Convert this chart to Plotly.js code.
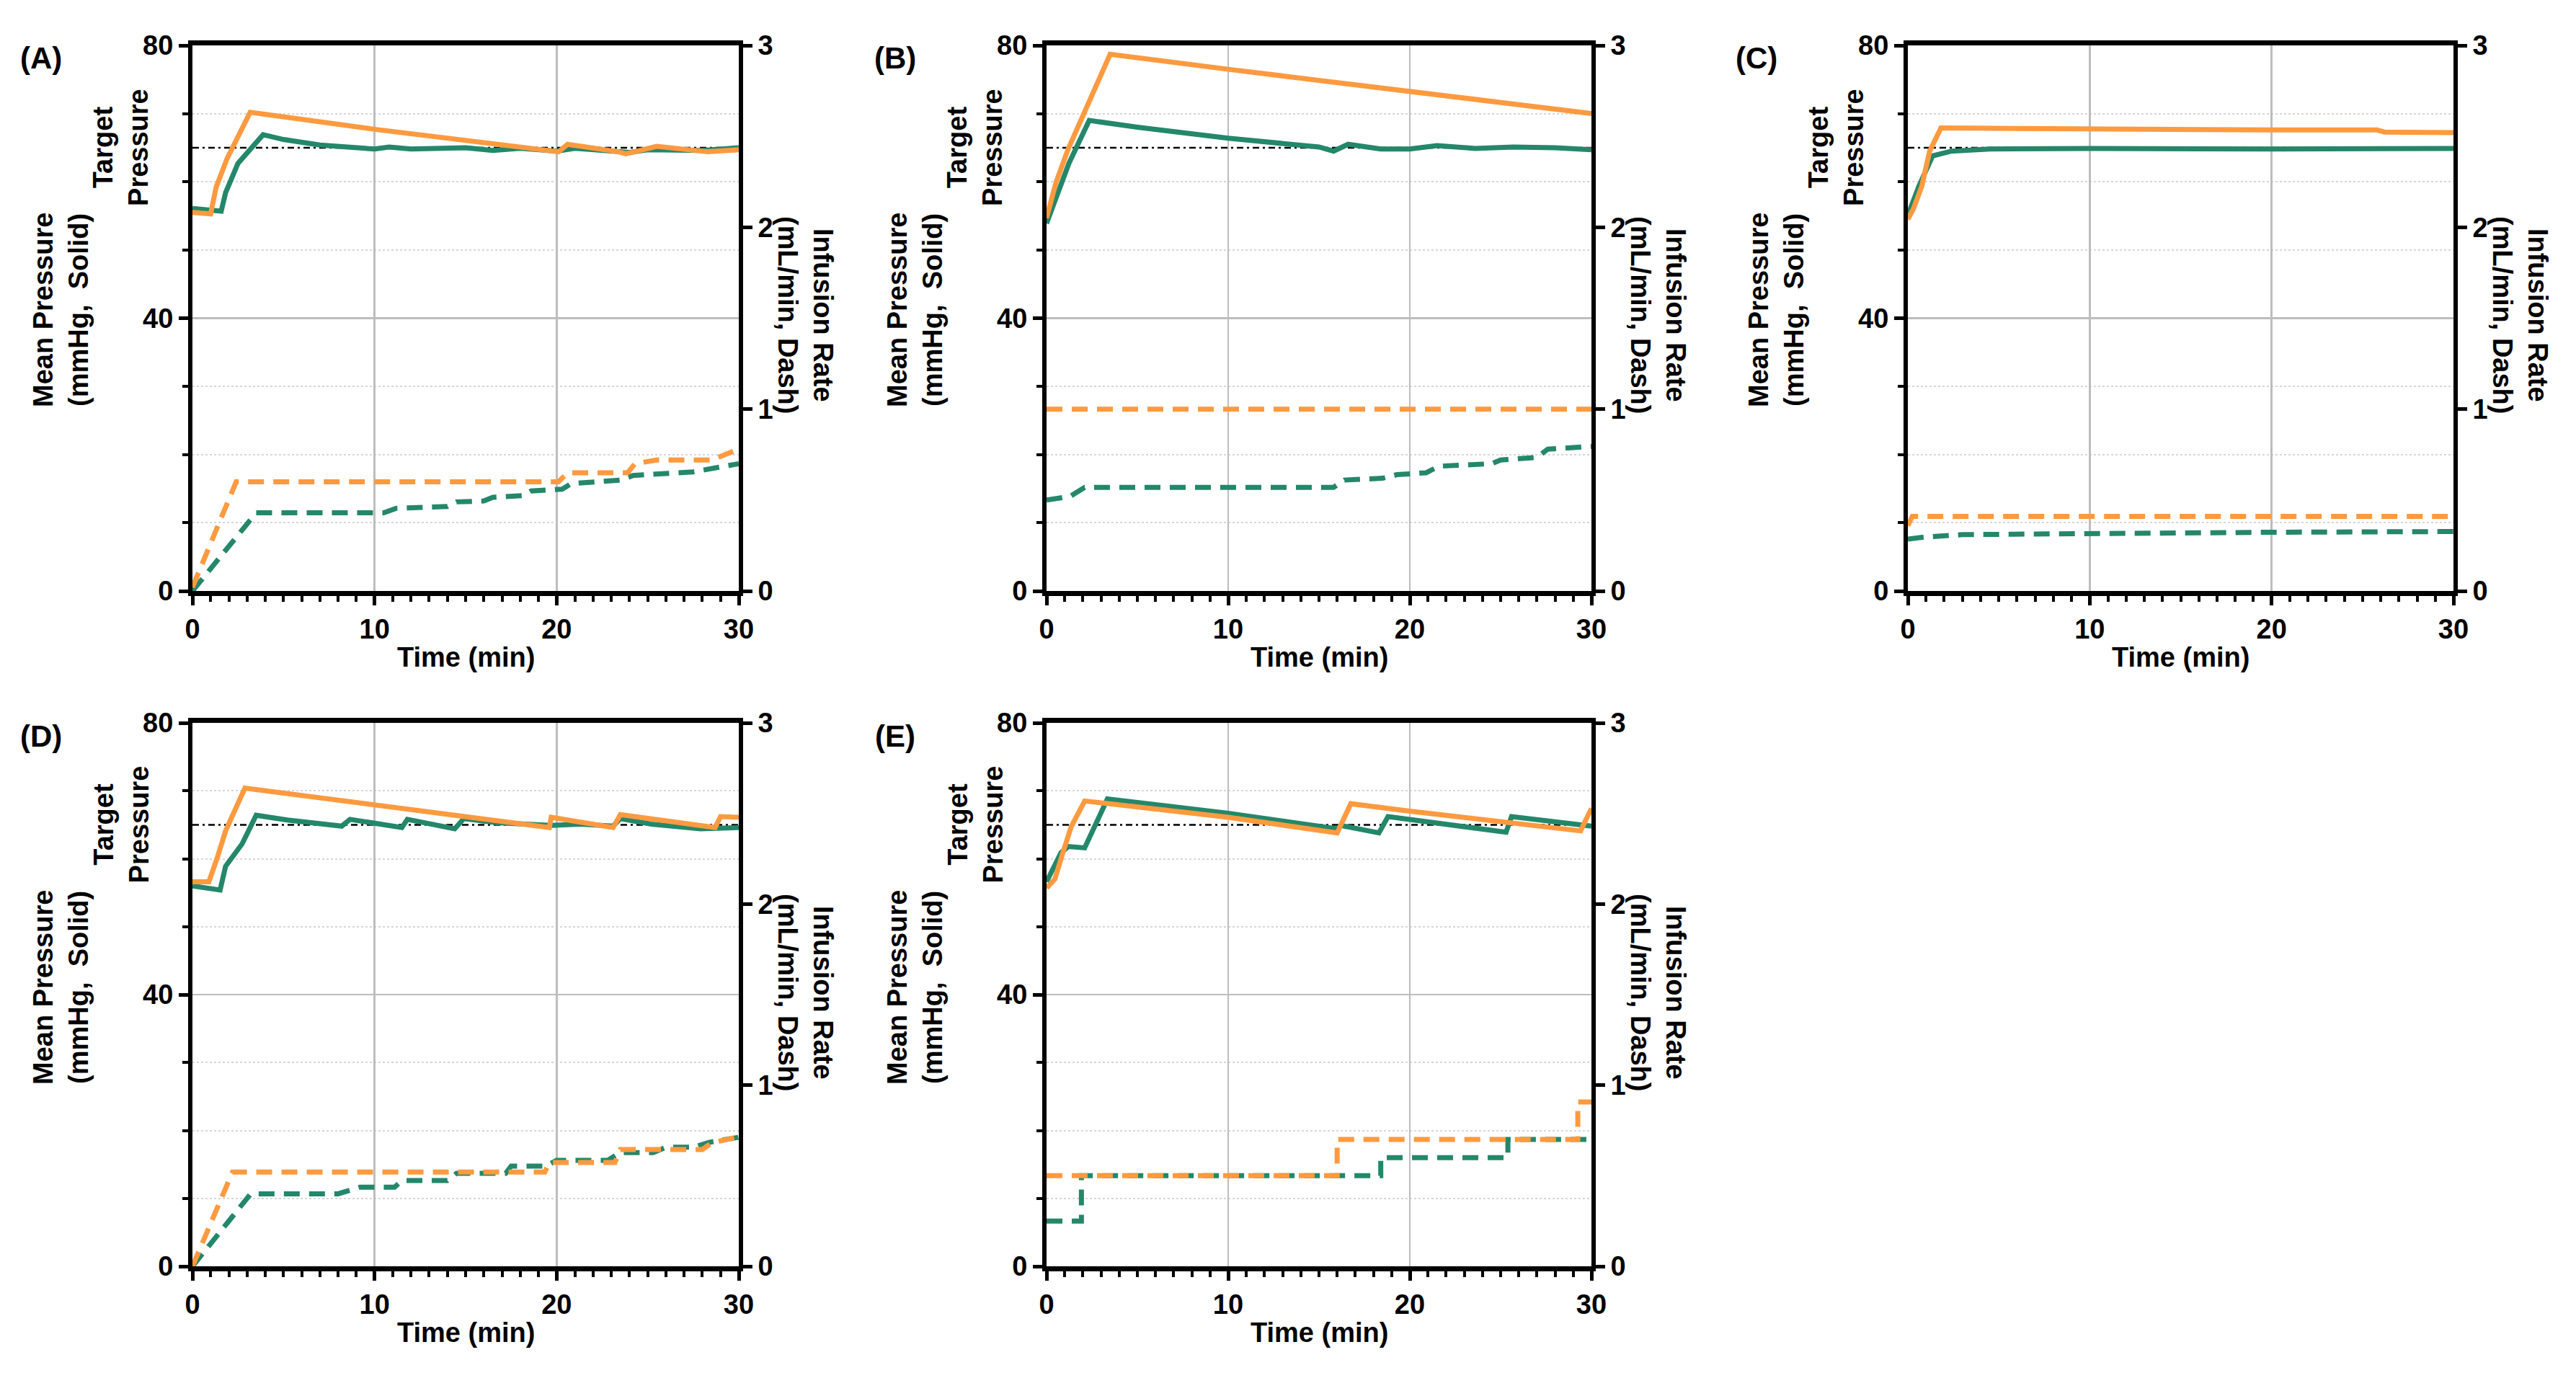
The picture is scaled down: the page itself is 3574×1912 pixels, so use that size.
<!DOCTYPE html>
<html>
<head>
<meta charset="utf-8">
<script src="https://cdn.plot.ly/plotly-3.0.1.min.js"></script>
<style>html,body{margin:0;padding:0;background:#fff;}</style>
</head>
<body>
<div id="chart" style="width:3574px;height:1912px;"></div>
<script>
// ---------- data ----------
const panelLabels = ['(A)', '(B)', '(C)', '(D)', '(E)'];
const xTicks = [0, 10, 20, 30];
const pTicks = [0, 40, 80];
const rTicks = [0, 1, 2, 3];
const targetT = [0, 30];
const targetP = [65, 65];

// Panel A
const A_tOrange = [0, 1.0, 1.3, 1.9, 3.17, 10, 20.1, 20.6, 23.4, 23.8, 25.5, 28.3, 30];
const A_pOrange = [55.5, 55.3, 59.2, 63.4, 70.2, 67.7, 64.4, 65.5, 64.4, 64.1, 65.2, 64.4, 64.7];
const A_tGreen = [0, 1.58, 1.82, 2.5, 3.88, 5, 7, 9, 10, 10.8, 12, 15, 16.5, 18, 20, 21, 24, 25, 28, 30];
const A_pGreen = [56.1, 55.7, 58.4, 62.7, 66.9, 66.2, 65.4, 64.9, 64.8, 65.1, 64.8, 65.0, 64.6, 64.9, 64.5, 64.9, 64.3, 64.7, 64.6, 65.0];
const A_tOrangeRate = [0, 2.4, 20.1, 20.6, 23.9, 24.3, 25.5, 28.5, 30];
const A_rOrange = [0.02, 0.6, 0.6, 0.65, 0.65, 0.70, 0.72, 0.72, 0.78];
const A_tGreenRate = [0, 3.5, 10.5, 11.2, 14.0, 14.5, 16.0, 16.5, 18.2, 18.6, 20.3, 20.8, 23.5, 24.2, 27.5, 28.5, 30];
const A_rGreen = [0, 0.43, 0.43, 0.455, 0.465, 0.49, 0.495, 0.515, 0.525, 0.55, 0.56, 0.59, 0.61, 0.635, 0.655, 0.675, 0.70];

// Panel B
const B_tOrange = [0, 0.52, 1.19, 3.5, 10, 20, 30];
const B_pOrange = [54.7, 59.9, 64.8, 78.7, 76.5, 73.2, 70.0];
const B_tGreen = [0, 0.6, 1.23, 2.35, 5, 10, 15, 15.8, 16.6, 18.4, 20, 21.5, 23.6, 25.7, 28, 30];
const B_pGreen = [53.9, 58.4, 62.7, 69.0, 68.0, 66.4, 65.1, 64.5, 65.5, 64.8, 64.8, 65.3, 64.9, 65.1, 65.0, 64.7];
const B_tOrangeRate = [0, 30];
const B_rOrange = [1.0, 1.0];
const B_tGreenRate = [0, 1.3, 2.1, 15.8, 16.4, 18.5, 19.3, 20.9, 21.6, 24.5, 25.0, 27.0, 27.6, 30];
const B_rGreen = [0.50, 0.52, 0.57, 0.57, 0.61, 0.62, 0.64, 0.65, 0.686, 0.70, 0.72, 0.735, 0.78, 0.795];

// Panel C
const C_tOrange = [0, 0.3, 0.76, 1.2, 1.82, 10, 20, 25.8, 26.2, 30];
const C_pOrange = [54.5, 56.0, 59.3, 64.5, 67.9, 67.7, 67.6, 67.6, 67.3, 67.2];
const C_tGreen = [0, 0.6, 1.36, 2.4, 4.5, 10, 20, 30];
const C_pGreen = [55.1, 59.3, 63.8, 64.5, 64.8, 64.9, 64.8, 64.9];
const C_tOrangeRate = [0, 0.25, 30];
const C_rOrange = [0.36, 0.41, 0.41];
const C_tGreenRate = [0, 0.8, 3, 10, 20, 30];
const C_rGreen = [0.285, 0.295, 0.31, 0.317, 0.323, 0.327];

// Panel D
const D_tOrange = [0, 0.9, 1.37, 1.82, 2.88, 19.6, 19.7, 23.1, 23.5, 28.7, 29.0, 30];
const D_pOrange = [56.6, 56.6, 60.2, 64.1, 70.4, 64.6, 66.1, 64.6, 66.5, 64.6, 66.2, 66.1];
const D_tGreen = [0, 1.52, 1.82, 2.73, 3.5, 5.2, 8.2, 8.65, 11.5, 11.8, 14.4, 14.9, 16.7, 19.7, 21.3, 23.1, 23.5, 25.2, 27.9, 30];
const D_pGreen = [56.0, 55.4, 58.9, 62.2, 66.4, 65.7, 64.8, 65.8, 64.6, 65.8, 64.4, 65.9, 65.3, 64.9, 65.1, 64.8, 65.9, 65.1, 64.4, 64.6];
const D_tOrangeRate = [0, 2.2, 19.35, 19.6, 23.2, 23.5, 28.0, 28.5, 30];
const D_rOrange = [0.0, 0.52, 0.52, 0.573, 0.573, 0.645, 0.645, 0.68, 0.716];
const D_tGreenRate = [0, 3.2, 8.0, 9.2, 11.1, 11.5, 14.0, 14.5, 17.2, 17.5, 19.4, 20.0, 22.8, 23.5, 25.3, 26.0, 27.5, 28.4, 30];
const D_rGreen = [0, 0.40, 0.40, 0.437, 0.437, 0.473, 0.473, 0.513, 0.513, 0.553, 0.553, 0.585, 0.585, 0.628, 0.628, 0.657, 0.657, 0.685, 0.712];

// Panel E
const E_tOrange = [0, 0.46, 0.9, 1.37, 2.1, 10, 16.0, 16.75, 20, 29.4, 30];
const E_pOrange = [55.7, 57.0, 60.9, 64.8, 68.5, 66.1, 63.8, 68.1, 67.0, 64.1, 67.4];
const E_tGreen = [0, 0.8, 1.2, 2.1, 3.35, 10, 16.0, 16.2, 18.3, 18.8, 25.3, 25.6, 30];
const E_pGreen = [56.6, 60.9, 61.8, 61.6, 68.8, 66.7, 64.4, 64.9, 63.8, 66.2, 63.9, 66.2, 64.8];
const E_tOrangeRate = [0, 16.0, 16.0, 29.25, 29.25, 30];
const E_rOrange = [0.5, 0.5, 0.7, 0.7, 0.907, 0.907];
const E_tGreenRate = [0, 1.92, 1.92, 18.4, 18.4, 25.4, 25.4, 30];
const E_rGreen = [0.25, 0.25, 0.5, 0.5, 0.6, 0.6, 0.7, 0.7];

// ---------- layout ----------
const W = 3574, H = 1912;
const ORANGE = '#FD9A40', GREEN = '#24876A';
const FONT = 'Arial, "Liberation Sans", sans-serif';
const boxes = [[267,1025,63,820],[1452,2208,63,820],[2647,3404,63,820],[267,1025,1003,1757],[1452,2208,1003,1757]];
const panels = [
  [A_tOrange, A_pOrange, A_tGreen, A_pGreen, A_tOrangeRate, A_rOrange, A_tGreenRate, A_rGreen],
  [B_tOrange, B_pOrange, B_tGreen, B_pGreen, B_tOrangeRate, B_rOrange, B_tGreenRate, B_rGreen],
  [C_tOrange, C_pOrange, C_tGreen, C_pGreen, C_tOrangeRate, C_rOrange, C_tGreenRate, C_rGreen],
  [D_tOrange, D_pOrange, D_tGreen, D_pGreen, D_tOrangeRate, D_rOrange, D_tGreenRate, D_rGreen],
  [E_tOrange, E_pOrange, E_tGreen, E_pGreen, E_tOrangeRate, E_rOrange, E_tGreenRate, E_rGreen]
];

const traces = [];
const layout = {
  width: W, height: H, autosize: false,
  margin: {l: 0, r: 0, t: 0, b: 0},
  paper_bgcolor: '#ffffff', plot_bgcolor: 'rgba(0,0,0,0)',
  showlegend: false,
  font: {family: FONT, color: '#000', weight: 'bold'},
  annotations: []
};
const tickFont = {family: FONT, size: 38, color: '#000', weight: 'bold'};
const annFont = {family: FONT, size: 38, color: '#000', weight: 'bold'};

panels.forEach((p, i) => {
  const [xl, xr, yt, yb] = boxes[i];
  const n = i + 1;
  const xa = 'x' + n;
  const yL = 'y' + (3 * i + 1), yR = 'y' + (3 * i + 2);
  const xKey = 'xaxis' + n;
  const yLKey = 'yaxis' + (3 * i + 1), yRKey = 'yaxis' + (3 * i + 2), yTKey = 'yaxis' + (3 * i + 3);
  const xd = [xl / W, xr / W];
  const yd = [1 - yb / H, 1 - yt / H];

  layout[xKey] = {
    domain: xd, anchor: yL, range: [0, 30], tickvals: xTicks, ticktext: xTicks.map(String),
    showgrid: true, gridcolor: '#bdbdbd', gridwidth: 2.5, zeroline: false,
    showline: true, linecolor: '#000', linewidth: 7, mirror: true,
    ticks: 'outside', ticklen: 13, tickwidth: 5, tickcolor: '#000',
    minor: {dtick: 1, tick0: 0, ticks: 'outside', ticklen: 8, tickwidth: 4, tickcolor: '#000', showgrid: false},
    tickfont: tickFont, fixedrange: true
  };
  layout[yLKey] = {
    domain: yd, anchor: xa, range: [0, 80], tickvals: pTicks, ticktext: pTicks.map(String),
    showgrid: true, gridcolor: '#bdbdbd', gridwidth: 2.5, zeroline: false,
    showline: true, linecolor: '#000', linewidth: 6,
    ticks: 'outside', ticklen: 13, tickwidth: 5, tickcolor: '#000',
    minor: {dtick: 10, tick0: 0, ticks: 'outside', ticklen: 8, tickwidth: 4, tickcolor: '#000',
            showgrid: true, gridcolor: '#d6d6d6', gridwidth: 2, griddash: 'dot'},
    tickfont: tickFont, fixedrange: true
  };
  layout[yRKey] = {
    domain: yd, anchor: xa, overlaying: yL, side: 'right', range: [0, 3], tickvals: rTicks, ticktext: rTicks.map(String),
    showgrid: false, zeroline: false,
    showline: true, linecolor: '#000', linewidth: 6,
    ticks: 'outside', ticklen: 13, tickwidth: 5, tickcolor: '#000',
    tickfont: tickFont, fixedrange: true
  };
  layout[yTKey] = {
    domain: yd, anchor: xa, overlaying: yL, side: 'left', range: [0, 80], tickvals: [targetP[0]],
    showticklabels: false, showgrid: false, zeroline: false, showline: false,
    ticks: 'outside', ticklen: 13, tickwidth: 5, tickcolor: '#000', fixedrange: true
  };

  // target line
  traces.push({x: targetT, y: targetP, xaxis: xa, yaxis: yL, type: 'scatter', mode: 'lines',
    line: {color: '#000', width: 2.5, dash: '9px,5px,3px,5px'}, hoverinfo: 'skip'});
  // rate (dashed), right axis
  traces.push({x: p[6], y: p[7], xaxis: xa, yaxis: yR, type: 'scatter', mode: 'lines',
    line: {color: GREEN, width: 7, dash: '22px,13px'}});
  traces.push({x: p[4], y: p[5], xaxis: xa, yaxis: yR, type: 'scatter', mode: 'lines',
    line: {color: ORANGE, width: 7, dash: '22px,13px'}});
  // pressure (solid), left axis
  traces.push({x: p[2], y: p[3], xaxis: xa, yaxis: yL, type: 'scatter', mode: 'lines',
    line: {color: GREEN, width: 7}});
  traces.push({x: p[0], y: p[1], xaxis: xa, yaxis: yL, type: 'scatter', mode: 'lines',
    line: {color: ORANGE, width: 7}});

  // panel label
  layout.annotations.push({text: panelLabels[i], xref: 'paper', yref: 'paper',
    x: (xl - 210) / W, y: 1 - (yt + 18) / H, xanchor: 'center', yanchor: 'middle',
    showarrow: false, font: {family: FONT, size: 42, color: '#000', weight: 'bold'}});
  // left axis title
  layout.annotations.push({text: 'Mean Pressure<br>(mmHg,&nbsp; Solid)', xref: 'paper', yref: 'paper',
    x: (xl - 183) / W, y: 1 - (yt + 367) / H, xanchor: 'center', yanchor: 'middle', textangle: -90,
    showarrow: false, font: annFont});
  // target pressure tick label
  layout.annotations.push({text: 'Target<br>Pressure', xref: 'paper', yref: yL,
    x: (xl - 99) / W, y: targetP[0], xanchor: 'center', yanchor: 'middle', textangle: -90,
    showarrow: false, font: annFont});
  // right axis title
  layout.annotations.push({text: 'Infusion Rate<br>(mL/min, Dash)', xref: 'paper', yref: 'paper',
    x: (xr + 93) / W, y: 1 - (yt + 374) / H, xanchor: 'center', yanchor: 'middle', textangle: 90,
    showarrow: false, font: annFont});
  // x axis title
  layout.annotations.push({text: 'Time (min)', xref: 'paper', yref: 'paper',
    x: ((xl + xr) / 2) / W, y: 1 - (yb + 92) / H, xanchor: 'center', yanchor: 'middle',
    showarrow: false, font: annFont});
});

Plotly.newPlot('chart', traces, layout, {staticPlot: true, displayModeBar: false});
</script>
</body>
</html>
